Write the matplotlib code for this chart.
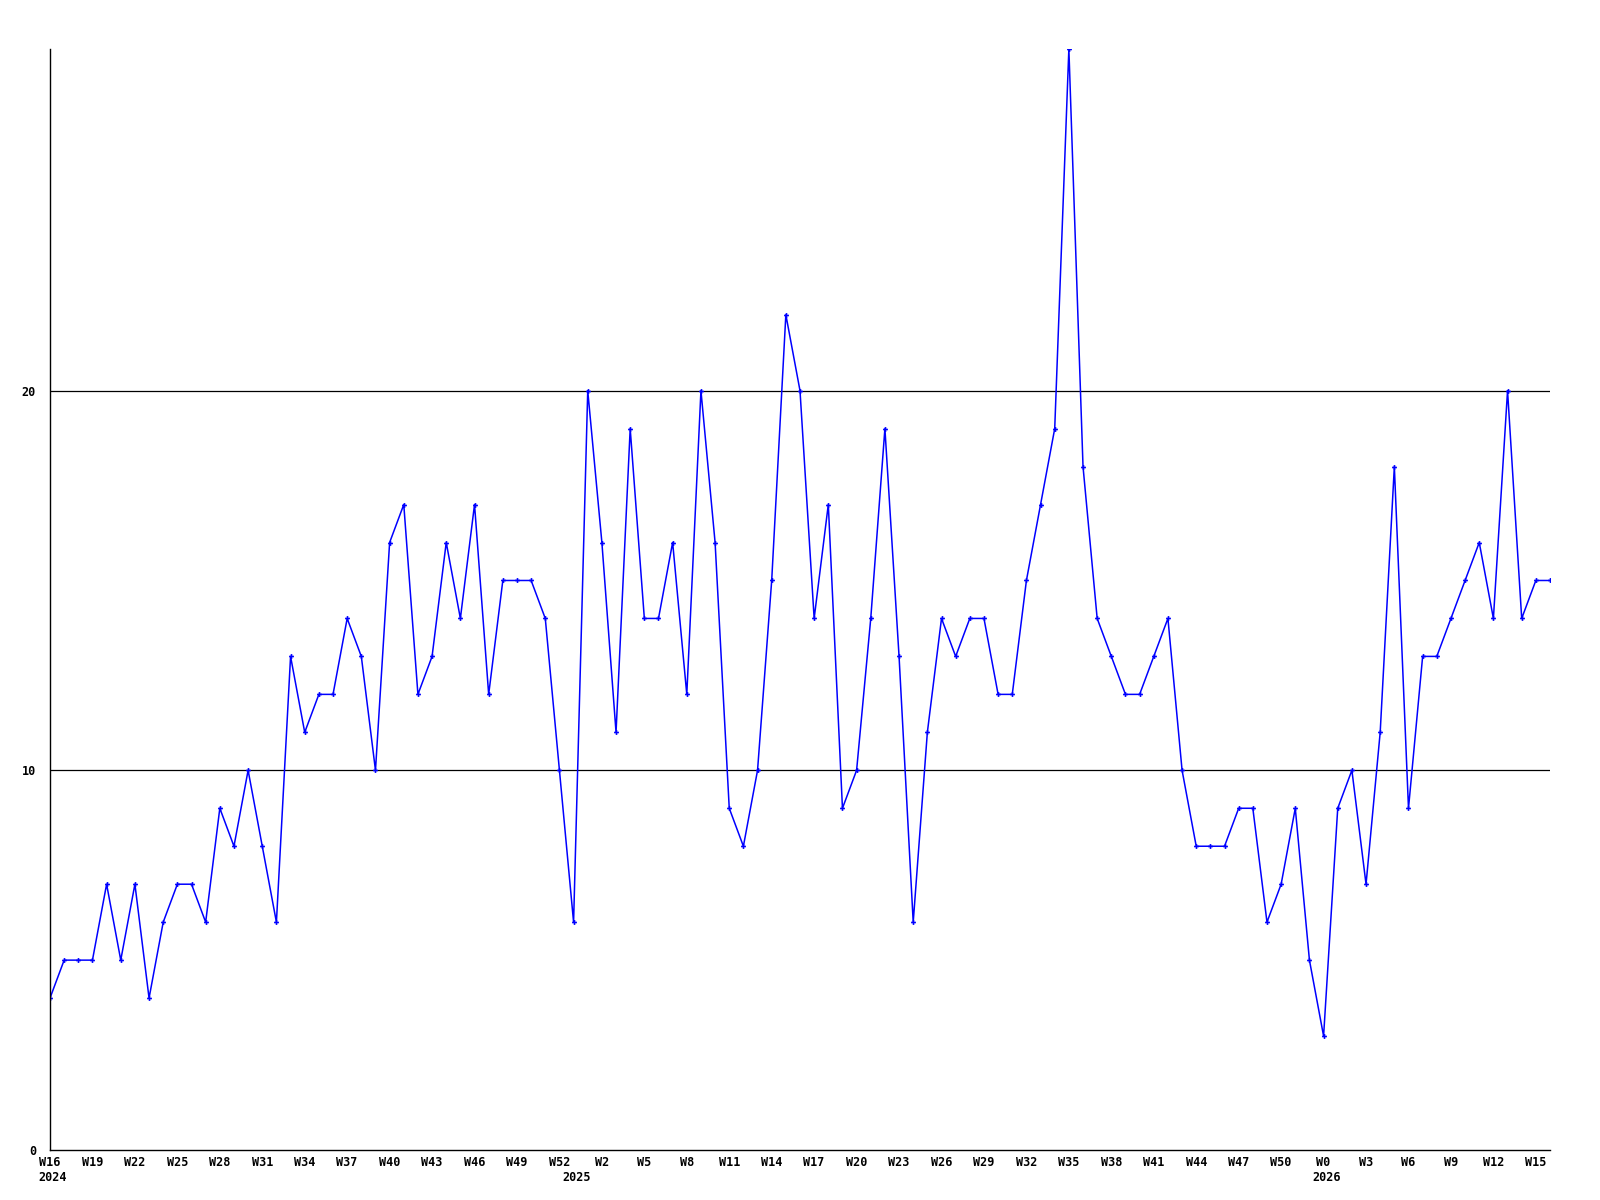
import matplotlib
matplotlib.use("Agg")
import matplotlib.pyplot as plt
import matplotlib.transforms as mtransforms

# weekly counts, W16 2024 .. W16 2026 (one point per week)
values = [4, 5, 5, 5, 7, 5, 7, 4, 6, 7, 7, 6, 9, 8, 10, 8, 6, 13, 11, 12,
          12, 14, 13, 10, 16, 17, 12, 13, 16, 14, 17, 12, 15, 15, 15, 14, 10, 6, 20, 16,
          11, 19, 14, 14, 16, 12, 20, 16, 9, 8, 10, 15, 22, 20, 14, 17, 9, 10, 14, 19,
          13, 6, 11, 14, 13, 14, 14, 12, 12, 15, 17, 19, 29, 18, 14, 13, 12, 12, 13, 14,
          10, 8, 8, 8, 9, 9, 6, 7, 9, 5, 3, 9, 10, 7, 11, 18, 9, 13, 13, 14,
          15, 16, 14, 20, 14, 15, 15]

week_labels = ["W16", "W19", "W22", "W25", "W28", "W31", "W34", "W37", "W40", "W43",
               "W46", "W49", "W52", "W2", "W5", "W8", "W11", "W14", "W17", "W20",
               "W23", "W26", "W29", "W32", "W35", "W38", "W41", "W44", "W47", "W50",
               "W0", "W3", "W6", "W9", "W12", "W15"]
year_labels = ["2024", "2025", "2026"]
year_index = [0, 37, 90]

x = list(range(len(values)))

fig = plt.figure(figsize=(16, 12), dpi=100)
ax = fig.add_axes([0.03125, 0.0417, 0.9375, 0.9175])

ax.plot(x, values, color="#0000ff", linewidth=1.1, marker="P", markersize=3.5,
        markeredgewidth=0)

for y in (10, 20):
    ax.axhline(y, color="black", linewidth=0.9, zorder=0)

ax.set_xlim(0, len(values) - 1)
ax.set_ylim(0, max(values))

for side in ("top", "right"):
    ax.spines[side].set_visible(False)
for side in ("left", "bottom"):
    ax.spines[side].set_linewidth(1.0)

font = dict(family="DejaVu Sans Mono", weight="bold", size=8.5)

ax.set_yticks([0, 10, 20])
ax.set_yticklabels(["0", "10", "20"], **font)
ax.set_xticks(x[::3])
ax.set_xticklabels(week_labels, **font)
ax.tick_params(axis="both", length=0)
ax.tick_params(axis="y", pad=10)
ax.tick_params(axis="x", pad=4)

trans = mtransforms.blended_transform_factory(ax.transData, ax.transAxes)
for idx, yr in zip(year_index, year_labels):
    ax.text(idx + 0.2, -0.019, yr, transform=trans, ha="center", va="top", **font)

plt.savefig("out.png", dpi=100)
